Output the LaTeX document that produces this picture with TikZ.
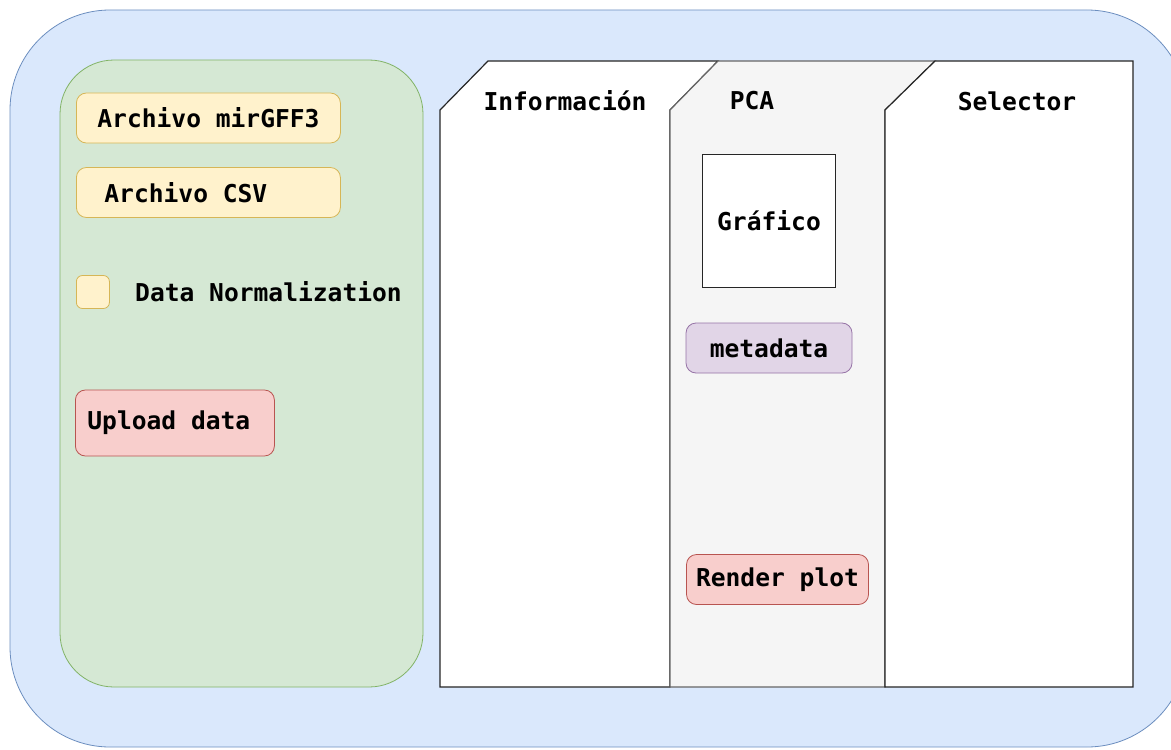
\documentclass[tikz,border=0pt]{standalone}
\usepackage{fontspec}
\setmonofont{DejaVu Sans Mono}
\usepackage{tikz}
\usetikzlibrary{
  	positioning
  }
\definecolor{bluefill}{HTML}{DAE8FC}
\definecolor{blueline}{HTML}{6C8EBF}
\definecolor{greenfill}{HTML}{D5E8D4}
\definecolor{greenline}{HTML}{82B366}
\definecolor{yellowfill}{HTML}{FFF2CC}
\definecolor{yellowline}{HTML}{D6B656}
\definecolor{redfill}{HTML}{F8CECC}
\definecolor{redline}{HTML}{B85450}
\definecolor{purplefill}{HTML}{E1D5E7}
\definecolor{purpleline}{HTML}{9673A6}
\definecolor{grayfill}{HTML}{F5F5F5}
\definecolor{grayline}{HTML}{666666}
\newcommand{\lbl}{\ttfamily\bfseries\fontsize{12.3}{15}\selectfont}
\tikzstyle{btn}=[draw,rounded corners=5pt,minimum height=25pt,font=\lbl]
\tikzstyle{lbtn}=[btn,anchor=west]
\tikzstyle{tab}=[draw=black!85,fill=white,line width=0.6pt]

\begin{document}
\begin{tikzpicture}[x=0.5pt,y=-0.5pt]
\useasboundingbox (0,0) rectangle (1171,749);
\clip (0,0) rectangle (1171,749);
% outer frame
\draw [fill=bluefill,draw=blueline,rounded corners=50pt] (10,10) rectangle (1187,747);
% left panel
\draw [fill=greenfill,draw=greenline,rounded corners=27pt] (60,60) rectangle (423,687);
\node [lbtn,fill=yellowfill,draw=yellowline,inner xsep=10.5pt] (gff) at (76,118) {\makebox[111pt][l]{Archivo mirGFF3}};
\node [lbtn,fill=yellowfill,draw=yellowline,inner xsep=14pt] (csv) at (76,192.5) {\makebox[104pt][l]{Archivo CSV}};
\node [draw=yellowline,fill=yellowfill,rounded corners=3pt,minimum size=16.5pt,inner sep=0pt,anchor=west] (chk) at (76,292) {};
\node [font=\lbl,inner sep=0pt,right=12.5pt of chk] (norm) {Data Normalization};
\node [lbtn,fill=redfill,draw=redline,minimum height=33pt,inner xsep=6pt] (upload) at (75,423) {\makebox[87.5pt][l]{Upload data}};
% tabs
\draw [tab] (440,110) -- (488,61) -- (718,61) -- (670,110) -- (670,687) -- (440,687) -- cycle;
\draw [tab,fill=grayfill,draw=grayline] (670,110) -- (718,61) -- (935,61) -- (885,110) -- (885,687) -- (670,687) -- cycle;
\draw [tab] (885,110) -- (935,61) -- (1133,61) -- (1133,687) -- (885,687) -- cycle;
\node [font=\lbl] (info) at (565,101) {Información};
\node [font=\lbl] (pca) at (752,101) {PCA};
\node [font=\lbl] (sel) at (1017,101) {Selector};
% PCA content
\node [draw=black!85,fill=white,line width=0.8pt,minimum size=66.5pt,font=\lbl] (plot) at (769,221) {Gráfico};
\node [btn,fill=purplefill,draw=purpleline,minimum width=83pt] (meta) at (769,348) {metadata};
\node [btn,fill=redfill,draw=redline,minimum width=91pt,inner xsep=0pt] (render) at (777.5,579.5) {Render plot};
\end{tikzpicture}
\end{document}
